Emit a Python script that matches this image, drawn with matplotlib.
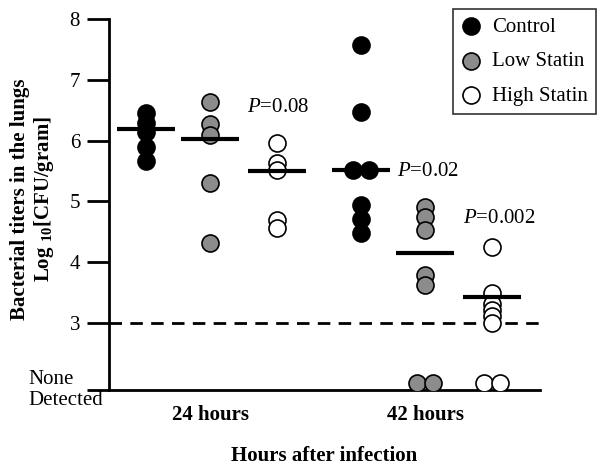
import matplotlib
matplotlib.use('Agg')
import matplotlib.pyplot as plt
from matplotlib.transforms import blended_transform_factory
from collections import Counter

plt.rcParams['font.family'] = 'Liberation Serif'
plt.rcParams['mathtext.fontset'] = 'custom'
plt.rcParams['mathtext.rm'] = 'Liberation Serif'
plt.rcParams['mathtext.it'] = 'Liberation Serif:italic'
plt.rcParams['mathtext.bf'] = 'Liberation Serif:bold'

# Data (log10 CFU/gram), 2.02 = none detected
time_labels = ['24 hours', '42 hours']
groups = ['Control', 'Low Statin', 'High Statin']
colors = ['black', '#8c8c8c', 'white']

control_24 = [6.46, 6.29, 6.15, 5.89, 5.66]
low_24 = [6.64, 6.28, 6.09, 5.30, 4.32]
high_24 = [5.97, 5.64, 5.52, 4.69, 4.56]
control_42 = [7.57, 6.48, 5.52, 5.52, 4.94, 4.71, 4.48]
low_42 = [4.91, 4.75, 4.53, 3.79, 3.62, 2.02, 2.02]
high_42 = [4.25, 3.49, 3.32, 3.21, 3.11, 3.00, 2.02, 2.02]

means_24 = [6.20, 6.02, 5.50]
means_42 = [5.52, 4.16, 3.43]

p_labels = ['0.08', '0.02', '0.002']
p_pos = [(0.17, 6.54), (0.868, 5.49), (1.178, 4.72)]

detection_limit = 3

data = [[control_24, low_24, high_24], [control_42, low_42, high_42]]
means = [means_24, means_42]

fig = plt.figure(figsize=(6, 4.68), dpi=100)
ax = fig.add_axes([0.182, 0.167, 0.718, 0.792])

offsets = [-0.3, 0.0, 0.31]
for t in range(2):
    for g in range(3):
        vals = data[t][g]
        cx = t + offsets[g]
        # values that coincide are set side by side
        counts = Counter(vals)
        seen = Counter()
        xs = []
        for v in vals:
            n = counts[v]
            xs.append(cx + (seen[v] - (n - 1) / 2) * 0.075)
            seen[v] += 1
        ax.scatter(xs, vals, s=150, c=colors[g], edgecolors='black',
                   linewidths=1.2, zorder=3,
                   label=groups[g] if t == 0 else None)
        ax.plot([cx - 0.135, cx + 0.135], [means[t][g]] * 2, color='black',
                lw=3, zorder=4, solid_capstyle='butt')

ax.axhline(detection_limit, color='black', lw=2, ls=(0, (4.5, 3)), zorder=1)

for lab, (x, y) in zip(p_labels, p_pos):
    ax.text(x, y, r'$\it{P}$=' + lab, fontsize=15, va='center', ha='left')

ax.set_xlim(-0.47, 1.535)
ax.set_ylim(1.9, 8)
ax.set_yticks([1.9, 3, 4, 5, 6, 7, 8])
ax.set_yticklabels(['', '3', '4', '5', '6', '7', '8'], fontsize=15)
ax.tick_params(axis='y', direction='out', length=16, width=2, pad=5)
ax.set_xticks([0, 1])
ax.set_xticklabels(time_labels, fontsize=15, fontweight='bold')
ax.tick_params(axis='x', length=0, pad=11)

trans = blended_transform_factory(ax.transAxes, ax.transData)
ax.text(-0.188, 1.9, 'None\nDetected', transform=trans, fontsize=15,
        ha='left', va='center', linespacing=1.15)

for side in ['top', 'right']:
    ax.spines[side].set_visible(False)
ax.spines['left'].set_linewidth(2)
ax.spines['bottom'].set_linewidth(2)

ax.set_xlabel('Hours after infection', fontsize=15, fontweight='bold', labelpad=15)
fig.text(33 / 600, 1 - 199 / 468,
         'Bacterial titers in the lungs\nLog $_{\\mathbf{10}}$[CFU/gram]',
         fontsize=15, fontweight='bold', rotation=90, ha='center', va='center',
         linespacing=1.1)

leg = fig.legend(loc='upper right', bbox_to_anchor=(596 / 600, 1 - 9 / 468),
                 fontsize=15, frameon=True, fancybox=False, borderaxespad=0,
                 handletextpad=0.5, labelspacing=0.72, handlelength=1.0,
                 borderpad=0.38)
leg.get_frame().set_edgecolor('black')
leg.get_frame().set_linewidth(1.2)

plt.savefig('out.png', dpi=100)
plt.close()
